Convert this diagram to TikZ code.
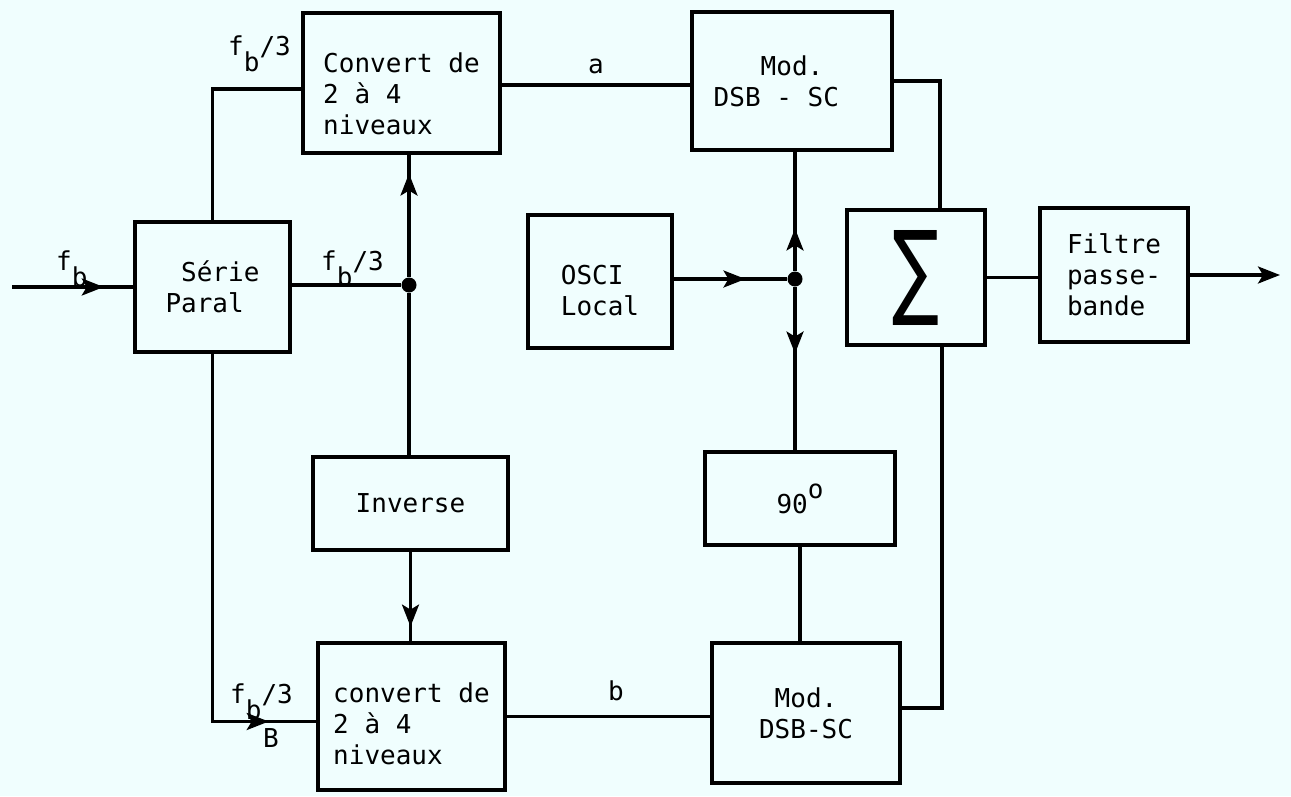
\documentclass[tikz,border=0pt]{standalone}
\usepackage{fontspec}
\setmonofont{DejaVu Sans Mono}
\newfontfamily\sigmafont{DejaVu Sans}
\usetikzlibrary{arrows.meta,decorations.markings,positioning}
\definecolor{papier}{RGB}{240,254,254}
\tikzstyle{bloc}=[draw,rectangle,line width=4.5pt,inner sep=0pt,font=\ttfamily\fontsize{26}{31}\selectfont,align=left]
\tikzstyle{fil}=[line width=3.2pt]
\tikzstyle{etiq}=[font=\ttfamily\fontsize{26}{31}\selectfont,inner sep=0pt,anchor=base west]
\tikzstyle{noeud}=[circle,fill,inner sep=0pt,minimum size=15pt]
\tikzset{fleche/.style={fil,postaction={decorate},
  decoration={markings,mark=at position #1 with {\arrow{Stealth[length=22pt,width=17pt,inset=5pt]}}}}}

\begin{document}
\begin{tikzpicture}[x=1pt,y=-1pt]
\fill[papier] (0,0) rectangle (1291,796);
% blocs
\node[bloc,minimum width=197,minimum height=140] (conva) at (401.5,83) {\rule{0pt}{41pt}Convert de\\2 à 4\\niveaux};
\node[bloc,minimum width=155,minimum height=130] (serie) at (212.5,287) {\phantom{P}Série\\Paral};
\node[bloc,minimum width=195,minimum height=93] (inv) at (410.5,503.5) {Inverse};
\node[bloc,minimum width=187,minimum height=147] (convb) at (411.5,716.5) {\rule{0pt}{34pt}convert de\\2 à 4\\niveaux};
\node[bloc,minimum width=200,minimum height=138] (moda) at (792,81) {\phantom{DSB}Mod.\\DSB - SC\phantom{--}};
\node[bloc,minimum width=144,minimum height=133] (osci) at (600,281.5) {\rule{0pt}{38pt}OSCI\\Local};
\node[bloc,minimum width=190,minimum height=93] (dephas) at (800,498.5) {90\raisebox{15pt}{o}};
\node[bloc,minimum width=188,minimum height=140,align=center] (modb) at (806,713) {Mod.\\DSB-SC};
\node[bloc,minimum width=138,minimum height=135] (somme) at (916,277.5) {\resizebox{47pt}{75pt}{\sigmafont ∑}};
\node[bloc,minimum width=148,minimum height=134] (filtre) at (1114,275) {Filtre\\passe-\\bande};

\coordinate (entree) at (12,287);
\coordinate (sortie) at (1280,275);
\node[noeud] (j1) at (409,285) {};
\node[noeud] (j2) at (795,279) {};

% liaisons
\draw[fleche=0.76] (entree) -- (serie.west);
\draw[fil] (serie.north) |- ([yshift=-6pt]conva.west);
\draw[fleche=0.9] (serie.south) |- ([yshift=-5pt]convb.west);
\draw[fil] (serie.east |- j1) -- (j1);
\draw[fleche=0.85] (j1) -- (j1 |- conva.south);
\draw[fil] (j1) -- (j1 |- inv.north);
\draw[fleche=0.84] (inv.south) -- (inv.south |- convb.north);
\draw[fil] ([yshift=-2pt]conva.east) -- ([yshift=-2pt]conva.east -| moda.west);
\draw[fil] (convb.east) -- (convb.east -| modb.west);
\draw[fleche=0.63] (osci.east |- j2) -- (j2);
\draw[fleche=0.36] (j2) -- (j2 |- moda.south);
\draw[fleche=0.41] (j2) -- (j2 |- dephas.north);
\draw[fil] (dephas.south) -- (dephas.south |- modb.north);
\draw[fil] (moda.east) -| ([xshift=24pt]somme.north);
\draw[fil] ([yshift=5pt]modb.east) -| ([xshift=26pt]somme.south);
\draw[fil] (somme.east) -- (somme.east -| filtre.west);
\draw[fil,-{Stealth[length=22pt,width=17pt,inset=5pt]}] (filtre.east) -- (sortie);

% etiquettes
\node[etiq] (fbe) at (56,270) {f\raisebox{-16pt}{b}};
\node[etiq] (fba) at (228,55) {f\raisebox{-16pt}{b}/3};
\node[etiq] (fbm) at (321,270) {f\raisebox{-16pt}{b}/3};
\node[etiq] (fbb) at (230,703) {f\raisebox{-16pt}{b}/3};
\node[etiq] (beta) at (263,747) {B};
\node[etiq] (la) at (588,73) {a};
\node[etiq] (lb) at (608,700) {b};
\end{tikzpicture}
\end{document}
